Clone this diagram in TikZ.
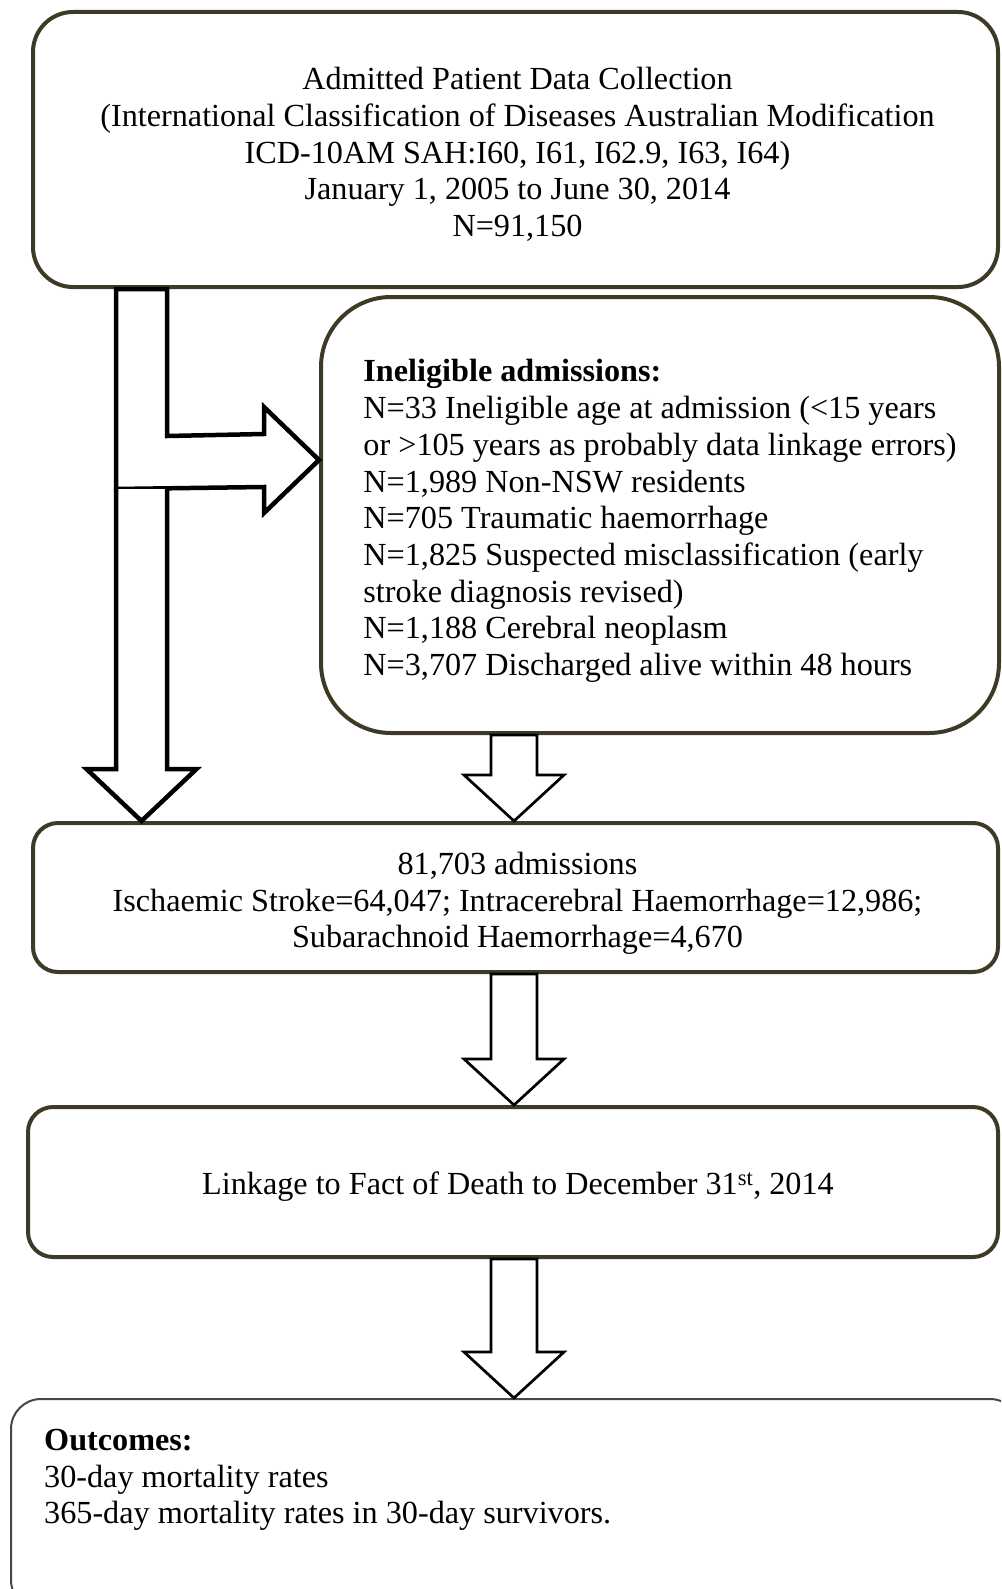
\documentclass[tikz,border=0pt]{standalone}
\usepackage{fontspec}
\setmainfont{Liberation Serif}
\usetikzlibrary{calc}
\definecolor{boxedge}{RGB}{62,58,38}
\definecolor{outedge}{RGB}{70,70,70}
\newcommand\midarrow[2]{%
  \draw[midarr] ($(#1)+(-23,0)$) -- ($(#2)+(-23,-46)$) -- ($(#2)+(-50,-46)$) -- (#2)
    -- ($(#2)+(50,-46)$) -- ($(#2)+(23,-46)$) -- ($(#1)+(23,0)$) -- cycle;}
\begin{document}
\begin{tikzpicture}[x=1pt,y=-1pt,
  txt/.style={font=\fontsize{32.2}{36.7}\selectfont,inner sep=0pt},
  box/.style={draw=boxedge,line width=4pt,fill=white,rounded corners=#1,inner sep=0pt},
  outbox/.style={draw=outedge,line width=2pt,fill=white,rounded corners=30pt,inner sep=0pt},
  bigarr/.style={draw=black,line width=4.5pt,fill=white,line join=miter},
  midarr/.style={draw=black,line width=2.7pt,fill=white,line join=miter}]
\useasboundingbox (0,0) rectangle (1001,1589);
\clip (0,0) rectangle (1001,1589);

% boxes
\node[box=40pt,minimum width=965pt,minimum height=275pt] (b1) at (515.5,149.5) {};
\node[box=70pt,minimum width=678pt,minimum height=436pt] (b2) at (660,515) {};
\node[box=25pt,minimum width=965pt,minimum height=149pt] (b3) at (515.5,897.5) {};
\node[box=25pt,minimum width=970pt,minimum height=150pt] (b4) at (513,1182) {};
\node[outbox,minimum width=1009pt,minimum height=211pt] (b5) at (515.5,1504.5) {};

% texts
\node[txt,align=center] (b1t) at ($(b1.center)+(2,5)$)
  {Admitted Patient Data Collection\\
   (International Classification of Diseases Australian Modification\\
   ICD-10AM SAH:I60, I61, I62.9, I63, I64)\\
   January 1, 2005 to June 30, 2014\\
   N=91,150};

\node[txt,align=left] (b2t) at ($(b2.center)+(0,6)$)
  {\textbf{Ineligible admissions:}\\
   N=33 Ineligible age at admission (<15 years\\
   or >105 years as probably data linkage errors)\\
   N=1,989 Non-NSW residents\\
   N=705 Traumatic haemorrhage\\
   N=1,825 Suspected misclassification (early\\
   stroke diagnosis revised)\\
   N=1,188 Cerebral neoplasm\\
   N=3,707 Discharged alive within 48 hours};

\node[txt,align=center] (b3t) at ($(b3.center)+(2,6)$)
  {81,703 admissions\\
   Ischaemic Stroke=64,047; Intracerebral Haemorrhage=12,986;\\
   Subarachnoid Haemorrhage=4,670};

\node[txt,align=center] (b4t) at ($(b4.center)+(5,5)$)
  {Linkage to Fact of Death to December 31\textsuperscript{st}, 2014};

\node[txt,align=left,anchor=west] (b5t) at (44,1480)
  {\textbf{Outcomes:}\\
   30-day mortality rates\\
   365-day mortality rates in 30-day survivors.};

% reference coordinates for arrow axes
\coordinate (Lstem) at (141.5,0);
\coordinate (Lmid) at (0,460);
\coordinate (Mx) at (514,0);
\coordinate (Ltop) at (b1.south -| Lstem);
\coordinate (Ltip) at (b2.west |- Lmid);
\coordinate (Ltip2) at (b3.north -| Lstem);

% bent arrow to the ineligible box
\draw[bigarr] ($(Ltop)+(-25.5,0)$) -- ($(Ltop)+(25.5,0)$) -- ($(Ltop)+(25.5,147)$)
  -- ($(Ltip)+(-55,-26)$) -- ($(Ltip)+(-55,-53)$) -- (Ltip) -- ($(Ltip)+(-55,53)$)
  -- ($(Ltip)+(-55,27)$) -- ($(Ltop)+(-25.5,200)$) -- cycle;

% left down arrow
\draw[bigarr] ($(Ltop)+(-25.5,200)$) -- ($(Ltip2)+(-25.5,-52)$) -- ($(Ltip2)+(-55,-52)$)
  -- (Ltip2) -- ($(Ltip2)+(55,-52)$) -- ($(Ltip2)+(25.5,-52)$) -- ($(Ltop)+(25.5,200)$);

% middle arrows
\coordinate (m1a) at (b2.south -| Mx);
\coordinate (m1b) at (b3.north -| Mx);
\coordinate (m2a) at (b3.south -| Mx);
\coordinate (m2b) at (b4.north -| Mx);
\coordinate (m3a) at (b4.south -| Mx);
\coordinate (m3b) at (b5.north -| Mx);
\midarrow{m1a}{m1b}
\midarrow{m2a}{m2b}
\midarrow{m3a}{m3b}
\end{tikzpicture}
\end{document}
